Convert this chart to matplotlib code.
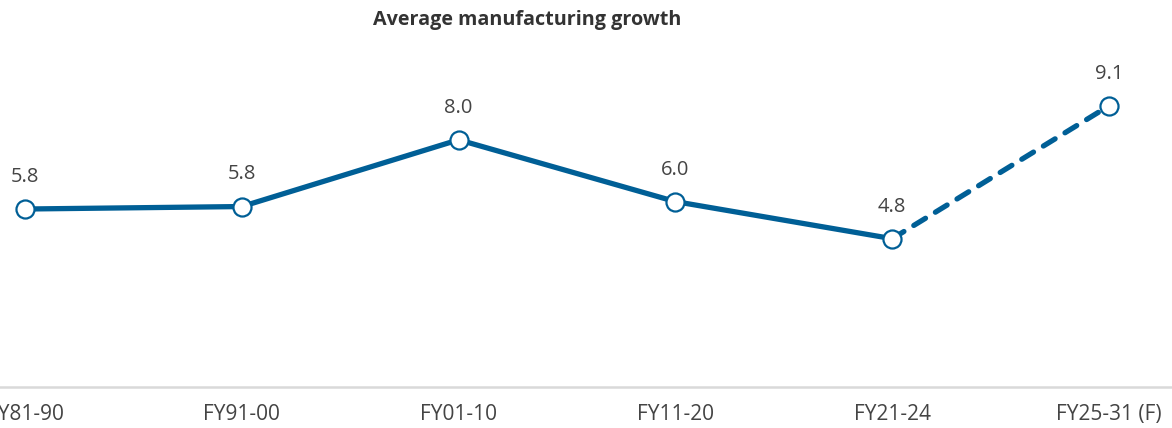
import matplotlib
matplotlib.use("Agg")
import matplotlib.pyplot as plt

# data
categories = ["FY81-90", "FY91-00", "FY01-10", "FY11-20", "FY21-24", "FY25-31 (F)"]
growth = [5.76, 5.84, 8.0, 6.0, 4.8, 9.1]
labels = ["5.8", "5.8", "8.0", "6.0", "4.8", "9.1"]
n_actual = 5  # last point is a forecast

BLUE = "#005f96"
GREY_TXT = "#444444"

plt.rcParams["font.family"] = ["Open Sans", "DejaVu Sans"]

fig = plt.figure(figsize=(11.72, 4.28), dpi=100)
ax = fig.add_axes([0, 1 - 387 / 428, 1, (387 - 60) / 428])

x = list(range(len(categories)))

# actual line
ax.plot(x[:n_actual], growth[:n_actual], color=BLUE, lw=3.8,
        solid_capstyle="round", zorder=2)
# forecast (dashed)
ax.plot(x[n_actual - 1:], growth[n_actual - 1:], color=BLUE, lw=3.8,
        linestyle=(0, (2.6, 2.2)), dash_capstyle="round", zorder=2)
# markers
ax.plot(x, growth, linestyle="none", marker="o", markersize=13,
        markerfacecolor="white", markeredgecolor=BLUE, markeredgewidth=1.6,
        zorder=3)

for xi, yi, lab in zip(x, growth, labels):
    ax.annotate(lab, (xi, yi), xytext=(0, 19.5), textcoords="offset points",
                ha="center", va="baseline", fontsize=14.5, color=GREY_TXT)

spacing = (1109 - 25) / 5
ax.set_xlim(-25 / spacing, 5 + (1172 - 1109) / spacing)
ax.set_ylim(0, (387 - 60) / 30.9)

ax.set_xticks(x)
ax.set_xticklabels(categories, fontsize=15, color=GREY_TXT)
ax.tick_params(axis="x", length=0, pad=12)
ax.set_yticks([])
for s in ["top", "right", "left"]:
    ax.spines[s].set_visible(False)
ax.spines["bottom"].set_color("#d9d9d9")
ax.spines["bottom"].set_linewidth(1.8)

fig.text(527 / 1172, 1 - 20 / 428, "Average manufacturing growth",
         ha="center", va="center", fontsize=14.2, fontweight="bold",
         color="#333333")

fig.savefig("out.png", dpi=100)
